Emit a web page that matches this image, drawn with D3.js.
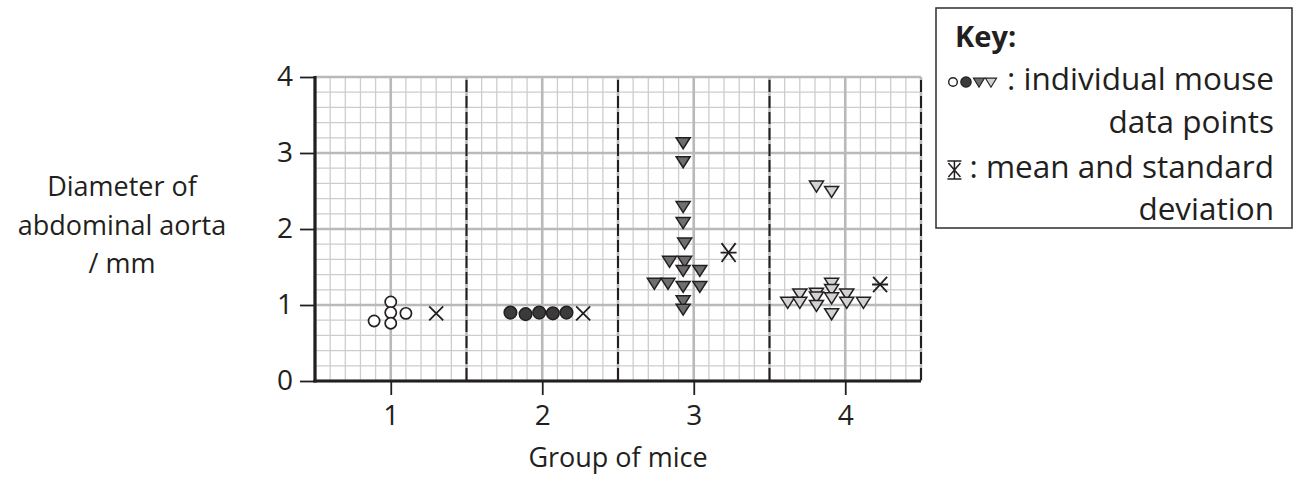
<!DOCTYPE html>
<html>
<head>
<meta charset="utf-8">
<script src="https://cdn.jsdelivr.net/npm/d3@7"></script>
<style>
  body { margin: 0; background: #fff; }
  text { font-family: "Open Sans", "Noto Sans", sans-serif; fill: #231f20; }
</style>
</head>
<body>
<div id="chart"></div>
<script>
// values
const groups = [1, 2, 3, 4];
const yTicks = [0, 1, 2, 3, 4];

// group 1 : open circles
const group1Pos = [0.89, 1.00, 1.00, 1.00, 1.10];
const group1Val = [0.79, 1.04, 0.90, 0.76, 0.89];
// group 2 : filled circles
const group2Pos = [1.79, 1.89, 1.98, 2.07, 2.16];
const group2Val = [0.90, 0.88, 0.90, 0.89, 0.90];
// group 3 : dark triangles
const group3Pos = [2.93, 2.93, 2.93, 2.93, 2.94, 2.84, 2.94, 2.93, 3.04, 2.74, 2.83, 2.93, 3.04, 2.93, 2.93];
const group3Val = [3.14, 2.89, 2.30, 2.09, 1.82, 1.58, 1.58, 1.46, 1.46, 1.29, 1.29, 1.25, 1.25, 1.06, 0.95];
// group 4 : light triangles
const group4Pos = [3.81, 3.91, 3.62, 3.70, 3.70, 3.81, 3.81, 3.81, 3.91, 3.91, 3.91, 3.91, 4.01, 4.01, 4.12];
const group4Val = [2.57, 2.50, 1.04, 1.15, 1.04, 1.16, 1.11, 1.00, 1.29, 1.21, 1.10, 0.89, 1.15, 1.04, 1.04];

// mean and standard deviation markers
const meanPos = [1.30, 2.27, 3.23, 4.23];
const meanVal = [0.89, 0.89, 1.69, 1.27];
const sdVal = [0, 0, 0.15, 0.127];

const yLabelLines = ["Diameter of", "abdominal aorta", "/ mm"];
const xLabel = "Group of mice";

const W = 1296, H = 488;
const ink = "#231f20";

const svg = d3.select("#chart").append("svg")
    .attr("width", W)
    .attr("height", H);

const x = d3.scaleLinear().domain([0.5, 4.5]).range([315, 921]);
const y = d3.scaleLinear().domain([0, 4]).range([381, 77]);

// graph paper grid
const grid = svg.append("g");
const xMinor = d3.range(0, 41).map(i => 0.5 + i * 0.1);
const yMinor = d3.range(0, 21).map(i => i * 0.2);

grid.selectAll(".vminor").data(xMinor).enter().append("line")
    .attr("x1", d => x(d)).attr("x2", d => x(d))
    .attr("y1", y(0)).attr("y2", y(4))
    .attr("stroke", "#cdcdcd").attr("stroke-width", 1.3);
grid.selectAll(".hminor").data(yMinor).enter().append("line")
    .attr("x1", x(0.5)).attr("x2", x(4.5))
    .attr("y1", d => y(d)).attr("y2", d => y(d))
    .attr("stroke", "#cdcdcd").attr("stroke-width", 1.3);

const xMajor = d3.range(0, 9).map(i => 0.5 + i * 0.5);
grid.selectAll(".vmajor").data(xMajor).enter().append("line")
    .attr("x1", d => x(d)).attr("x2", d => x(d))
    .attr("y1", y(0)).attr("y2", y(4))
    .attr("stroke", "#b9b9b9").attr("stroke-width", 2.6);
grid.selectAll(".hmajor").data(yTicks).enter().append("line")
    .attr("x1", x(0.5)).attr("x2", x(4.5))
    .attr("y1", d => y(d)).attr("y2", d => y(d))
    .attr("stroke", "#b9b9b9").attr("stroke-width", 2.6);

// dashed group dividers
grid.selectAll(".divider").data([1.5, 2.5, 3.5, 4.5]).enter().append("line")
    .attr("x1", d => x(d)).attr("x2", d => x(d))
    .attr("y1", y(4) + 3).attr("y2", y(0))
    .attr("stroke", ink).attr("stroke-width", 2)
    .attr("stroke-dasharray", "12,4");

// axes
const yAxis = svg.append("g")
    .attr("transform", "translate(" + x(0.5) + ",0)")
    .call(d3.axisLeft(y).tickValues(yTicks).tickSize(15).tickPadding(7).tickFormat(d3.format("d")));
const xAxis = svg.append("g")
    .attr("transform", "translate(0," + y(0) + ")")
    .call(d3.axisBottom(x).tickValues(groups).tickSize(14).tickPadding(10).tickFormat(d3.format("d")));

[yAxis, xAxis].forEach(a => {
  a.select(".domain").remove();
  a.selectAll(".tick line").attr("stroke", ink).attr("stroke-width", 1.8);
  a.selectAll(".tick text").attr("font-size", 28).attr("fill", ink)
    .style("font-family", '"Open Sans", sans-serif');
});

svg.append("line")
    .attr("x1", x(0.5)).attr("x2", x(0.5))
    .attr("y1", y(4) - 1).attr("y2", y(0) + 1.5)
    .attr("stroke", ink).attr("stroke-width", 3.2);
svg.append("line")
    .attr("x1", x(0.5) - 1.5).attr("x2", x(4.5))
    .attr("y1", y(0)).attr("y2", y(0))
    .attr("stroke", ink).attr("stroke-width", 3.2);

// axis titles
svg.append("text")
    .attr("x", 122).attr("y", 196)
    .attr("text-anchor", "middle")
    .attr("font-size", 27)
    .selectAll("tspan").data(yLabelLines).enter().append("tspan")
    .attr("x", 122)
    .attr("dy", (d, i) => i === 0 ? 0 : 38.5)
    .text(d => d);

svg.append("text")
    .attr("x", (x(0.5) + x(4.5)) / 2).attr("y", 467)
    .attr("text-anchor", "middle")
    .attr("font-size", 27)
    .text(xLabel);

// marker shapes
function triPath(w, h) {
  return "M" + (-w / 2) + "," + (-h * 0.42) + "L" + (w / 2) + "," + (-h * 0.42) + "L0," + (h * 0.58) + "Z";
}

const marks = svg.append("g");

marks.selectAll(".g1").data(group1Val).enter().append("circle")
    .attr("cx", (d, i) => x(group1Pos[i]))
    .attr("cy", d => y(d))
    .attr("r", 5.6)
    .attr("fill", "#fff").attr("stroke", ink).attr("stroke-width", 1.7);

marks.selectAll(".g2").data(group2Val).enter().append("circle")
    .attr("cx", (d, i) => x(group2Pos[i]))
    .attr("cy", d => y(d))
    .attr("r", 6.3)
    .attr("fill", "#3b3b3b").attr("stroke", ink).attr("stroke-width", 1.5);

marks.selectAll(".g3").data(group3Val).enter().append("path")
    .attr("transform", (d, i) => "translate(" + x(group3Pos[i]) + "," + y(d) + ")")
    .attr("d", triPath(14, 11))
    .attr("fill", "#6e6e6e").attr("stroke", ink).attr("stroke-width", 1.5);

marks.selectAll(".g4").data(group4Val).enter().append("path")
    .attr("transform", (d, i) => "translate(" + x(group4Pos[i]) + "," + y(d) + ")")
    .attr("d", triPath(14, 11))
    .attr("fill", "#d2d2d2").attr("stroke", ink).attr("stroke-width", 1.5);

// mean crosses and sd bars
const meanG = marks.selectAll(".mean").data(meanVal).enter().append("g")
    .attr("transform", (d, i) => "translate(" + x(meanPos[i]) + "," + y(d) + ")");
meanG.append("path")
    .attr("d", (d, i) => {
      const hh = sdVal[i] > 0 ? y(d - sdVal[i]) - y(d) - 2 : 7;
      const hw = 7;
      return "M" + (-hw) + "," + (-hh) + "L" + hw + "," + hh + "M" + (-hw) + "," + hh + "L" + hw + "," + (-hh);
    })
    .attr("stroke", ink).attr("stroke-width", 1.8).attr("fill", "none");
meanG.filter((d, i) => sdVal[i] > 0).append("path")
    .attr("d", (d, i) => {
      const top = y(d + sdVal[i]) - y(d), bot = y(d - sdVal[i]) - y(d);
      return "M0," + top + "L0," + bot + "M-8," + top + "L8," + top + "M-8," + bot + "L8," + bot;
    })
    .attr("stroke", ink).attr("stroke-width", 1.8).attr("fill", "none");

// key
const key = svg.append("g");
key.append("rect")
    .attr("x", 936).attr("y", 8).attr("width", 356).attr("height", 220)
    .attr("fill", "#fff").attr("stroke", "#3a3a3a").attr("stroke-width", 1.6);
key.append("text").attr("x", 955).attr("y", 47)
    .attr("font-size", 29).attr("font-weight", "bold").text("Key:");

const keyLines = [
  [": individual mouse", 90],
  ["data points", 133],
  [": mean and standard", 178],
  ["deviation", 220]
];
const keyText = key.selectAll(".kl").data(keyLines).enter().append("text")
    .attr("x", 1274).attr("y", d => d[1])
    .attr("text-anchor", "end").attr("font-size", 31.5)
    .text(d => d[0]);

// symbols sit just left of the colon of their line, with a small gap
const starts = keyText.nodes().map(n => 1274 - n.getComputedTextLength());
const ky = 82;
const s0 = starts[0] - 16;
key.append("path").attr("transform", "translate(" + s0 + "," + ky + ")").attr("d", triPath(11, 9))
    .attr("fill", "#d2d2d2").attr("stroke", ink).attr("stroke-width", 1.2);
key.append("path").attr("transform", "translate(" + (s0 - 12) + "," + ky + ")").attr("d", triPath(11, 9))
    .attr("fill", "#6e6e6e").attr("stroke", ink).attr("stroke-width", 1.2);
key.append("circle").attr("cx", s0 - 25).attr("cy", ky).attr("r", 5.2)
    .attr("fill", "#3b3b3b").attr("stroke", ink).attr("stroke-width", 1.2);
key.append("circle").attr("cx", s0 - 38).attr("cy", ky).attr("r", 4.3)
    .attr("fill", "#fff").attr("stroke", ink).attr("stroke-width", 1.4);

const ex = starts[2] - 15, ey = 170;
key.append("path")
    .attr("d", "M" + (ex - 7) + "," + (ey - 9) + "L" + (ex + 7) + "," + (ey - 9) +
               "M" + (ex - 7) + "," + (ey + 9) + "L" + (ex + 7) + "," + (ey + 9) +
               "M" + ex + "," + (ey - 9) + "L" + ex + "," + (ey + 9) +
               "M" + (ex - 6) + "," + (ey - 7) + "L" + (ex + 6) + "," + (ey + 7) +
               "M" + (ex - 6) + "," + (ey + 7) + "L" + (ex + 6) + "," + (ey - 7))
    .attr("stroke", ink).attr("stroke-width", 1.5).attr("fill", "none");
</script>
</body>
</html>
